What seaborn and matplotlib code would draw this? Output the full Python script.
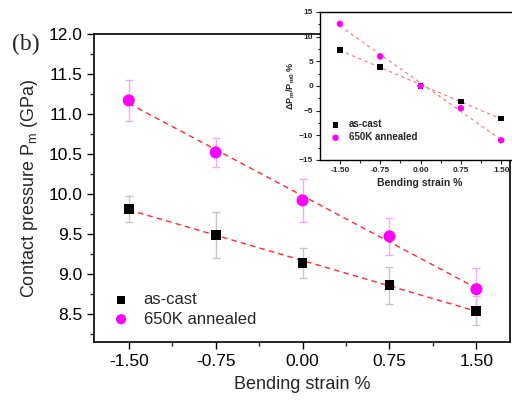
import numpy as np
import matplotlib
matplotlib.use("Agg")
import matplotlib.pyplot as plt
import seaborn as sns
import pandas as pd
from matplotlib.ticker import MultipleLocator, FixedLocator

# ---- data ----
strain = [-1.5, -0.75, 0.0, 0.75, 1.5]
ascast = [9.81, 9.49, 9.14, 8.86, 8.54]
ascast_err = [0.16, 0.29, 0.19, 0.23, 0.18]
annealed = [11.17, 10.52, 9.92, 9.47, 8.81]
annealed_err = [0.26, 0.18, 0.27, 0.23, 0.26]
ascast_rel = [7.3, 3.8, 0.0, -3.1, -6.6]
annealed_rel = [12.6, 6.0, 0.0, -4.5, -11.0]
series_names = ["as-cast", "650K annealed"]
xticks = [-1.50, -0.75, 0.00, 0.75, 1.50]
xticklabels = ["-1.50", "-0.75", "0.00", "0.75", "1.50"]

sns.set_theme(style="ticks")
plt.rcParams['font.family'] = ['Liberation Sans', 'DejaVu Sans']
plt.rcParams['mathtext.fontset'] = 'custom'
plt.rcParams['mathtext.rm'] = 'Liberation Sans'
plt.rcParams['mathtext.it'] = 'Liberation Sans:italic'
plt.rcParams['mathtext.bf'] = 'Liberation Sans:bold'

df = pd.DataFrame({
    "strain": strain * 2,
    "value": ascast + annealed,
    "rel": ascast_rel + annealed_rel,
    "series": [series_names[0]] * 5 + [series_names[1]] * 5,
})
palette = {series_names[0]: "black", series_names[1]: "#ff00ff"}
markers = {series_names[0]: "s", series_names[1]: "o"}
sizes_main = {series_names[0]: 50, series_names[1]: 75}
sizes_ins = {series_names[0]: 16, series_names[1]: 22}

fig = plt.figure(figsize=(5.12, 4.01), dpi=100)
W, H = 512, 401
ax = fig.add_axes([94 / W, 1 - 342 / H, (510 - 94) / W, (342 - 34) / H])

# error bars
ax.errorbar(strain, ascast, yerr=ascast_err, fmt="none", ecolor="#c8c8c8",
            elinewidth=1, capsize=3, capthick=1, zorder=1)
ax.errorbar(strain, annealed, yerr=annealed_err, fmt="none", ecolor="#f5a8f5",
            elinewidth=1, capsize=3, capthick=1, zorder=1)

# fit lines
for name in series_names:
    sub = df[df.series == name]
    sns.regplot(data=sub, x="strain", y="value", ax=ax, scatter=False, ci=None,
                line_kws=dict(color="#ff2a2a", lw=1.0, ls=(0, (4, 3)), zorder=2))

# markers
for name in series_names:
    sub = df[df.series == name]
    sns.scatterplot(data=sub, x="strain", y="value", ax=ax, color=palette[name],
                    marker=markers[name], s=sizes_main[name], edgecolor="none",
                    zorder=3, label=name)

ax.set_xlim(-1.80, 1.79)
ax.set_ylim(8.15, 12.0)
ax.xaxis.set_major_locator(FixedLocator(xticks))
ax.set_xticklabels(xticklabels)
ax.xaxis.set_minor_locator(FixedLocator([-1.125, -0.375, 0.375, 1.125]))
ax.yaxis.set_major_locator(MultipleLocator(0.5))
ax.yaxis.set_minor_locator(MultipleLocator(0.25))
ax.yaxis.set_major_formatter(matplotlib.ticker.FormatStrFormatter("%.1f"))
ax.tick_params(axis="both", which="major", labelsize=12.5, length=5, width=1,
               direction="out", colors="black")
ax.tick_params(axis="both", which="minor", length=3, width=1, direction="out")
ax.tick_params(top=False, right=False, which="both")
for s in ax.spines.values():
    s.set_linewidth(1.2)
    s.set_color("black")
ax.set_xlabel("Bending strain %", fontsize=13, labelpad=5)
ax.set_ylabel(r"Contact pressure P$_{\mathrm{m}}$ (GPa)", fontsize=13, labelpad=6)
leg = ax.legend(loc="lower left", bbox_to_anchor=(0.045, 0.05), frameon=False,
                fontsize=12, handlelength=1.0, handletextpad=0.85,
                borderaxespad=0, borderpad=0, labelspacing=0.25,
                markerscale=0.85)
fig.text(12 / W, 1 - 44 / H, "(b)", fontsize=17, family="Liberation Serif",
         va="center", ha="left")

# ---- inset ----
ins = fig.add_axes([320 / W, 1 - 160 / H, (520 - 320) / W, (160 - 12) / H])
ins.set_facecolor("white")
for name in series_names:
    sub = df[df.series == name]
    sns.regplot(data=sub, x="strain", y="rel", ax=ins, scatter=False, ci=None,
                line_kws=dict(color="#ff7070", lw=0.8, ls=(0, (3, 3)), zorder=2))
for name in series_names:
    sub = df[df.series == name]
    sns.scatterplot(data=sub, x="strain", y="rel", ax=ins, color=palette[name],
                    marker=markers[name], s=sizes_ins[name],
                    edgecolor="none", zorder=3, label=name)
ins.set_xlim(-1.87, 1.85)
ins.set_ylim(-15, 15)
ins.xaxis.set_major_locator(FixedLocator(xticks))
ins.set_xticklabels(xticklabels)
ins.xaxis.set_minor_locator(FixedLocator([-1.125, -0.375, 0.375, 1.125]))
ins.yaxis.set_major_locator(MultipleLocator(5))
ins.yaxis.set_minor_locator(MultipleLocator(2.5))
ins.tick_params(axis="both", which="major", labelsize=6, length=3, width=0.8,
                direction="out", pad=2)
ins.tick_params(axis="both", which="minor", length=1.8, width=0.8, direction="out")
for lab in ins.get_xticklabels() + ins.get_yticklabels():
    lab.set_fontweight("bold")
for s in ins.spines.values():
    s.set_linewidth(1.0)
    s.set_color("black")
ins.set_xlabel("Bending strain %", fontsize=7.5, fontweight="bold", labelpad=3)
ins.set_ylabel(r"$\mathbf{\Delta P_{m}/P_{m0}}$ %", fontsize=6.5, fontweight="bold",
               labelpad=1)
ins.legend(loc="lower left", bbox_to_anchor=(0.0, 0.08), frameon=False,
           prop=dict(size=7, weight="bold"), handletextpad=0.4,
           borderaxespad=0.2, labelspacing=0.3, markerscale=1.0)

fig.savefig("out.png", dpi=100)
